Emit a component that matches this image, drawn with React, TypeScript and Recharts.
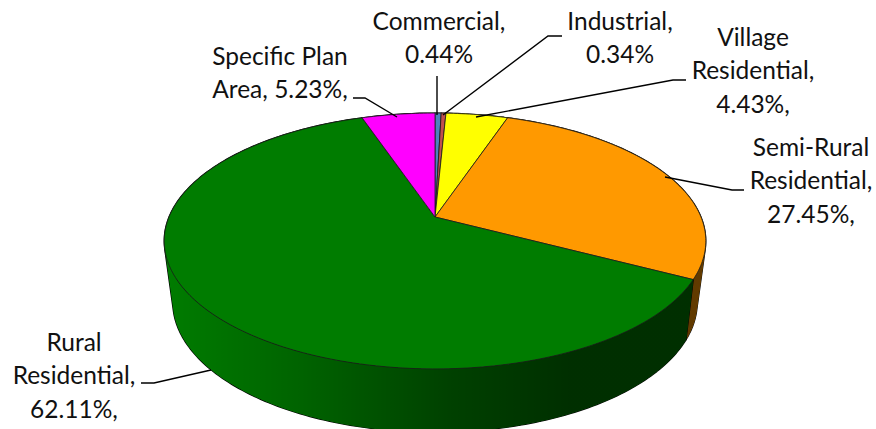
import React from "react"
import { Pie, PieChart } from "recharts"

// land use share, clockwise from 12 o'clock
const categories = ["Commercial", "Industrial", "Village Residential", "Semi-Rural Residential", "Rural Residential", "Specific Plan Area"]
const shares = [0.44, 0.34, 4.43, 27.45, 62.11, 5.23]
const colors = ["#4F81BD", "#C0504D", "#FFFF00", "#FF9900", "#007C00", "#FF00FF"]

const data = categories.map((name, i) => ({ name, value: shares[i], fill: colors[i] }))

const labelLines = [
  ["Commercial,", "0.44%"],
  ["Industrial,", "0.34%"],
  ["Village", "Residential,", "4.43%,"],
  ["Semi-Rural", "Residential,", "27.45%,"],
  ["Rural", "Residential,", "62.11%,"],
  ["Specific Plan", "Area, 5.23%,"],
]

// where each label sits and how its leader runs
const labelLayout = [
  { x: 439, y: 30, leader: "437,76 437,115" },
  { x: 620, y: 30, leader: "562,36 548,36 443,115" },
  { x: 753, y: 46, leader: "686,80 673,80 476,117" },
  { x: 811, y: 156, leader: "744,190 732,190 665,177" },
  { x: 74, y: 351, leader: "141,383 154,383 211,370" },
  { x: 280, y: 65, leader: "353,98 365,98 397,117" },
]

const LINE_HEIGHT = 33.3

// perspective of the tilted disc
const topRing = { dy: 0, scaleR: 1, scaleS: 0.464, a: 0.1875 }
const bottomRing = { dy: 59, scaleR: 0.966, scaleS: 0.47, a: 0.2 }

function ringCoords(p: any, ring: typeof topRing) {
  const pts: number[][] = []
  const from = 90 - p.startAngle
  const to = 90 - p.endAngle
  const steps = Math.max(2, Math.ceil(Math.abs(to - from)))
  for (let i = 0; i <= steps; i++) {
    const t = ((from + ((to - from) * i) / steps) * Math.PI) / 180
    const u = Math.sin(t)
    const v = Math.cos(t)
    const d = 1 + ring.a * v
    pts.push([p.cx + (p.outerRadius * ring.scaleR * u) / d, p.cy + ring.dy - (p.outerRadius * ring.scaleS * v) / d])
  }
  return pts
}

const toPath = (pts: number[][]) => "M" + pts.map((q) => `${q[0].toFixed(2)} ${q[1].toFixed(2)}`).join("L") + "Z"

function signedArea(pts: number[][]) {
  let s = 0
  pts.forEach((q, i) => {
    const n = pts[(i + 1) % pts.length]
    s += q[0] * n[1] - n[0] * q[1]
  })
  return s
}

function SideShape(p: any) {
  const upper = ringCoords(p, topRing)
  const lower = ringCoords(p, bottomRing)
  // one quad per step, so the strip also fills out to the silhouette at the far left and right.
  // all wound the same way or the overlaps cancel under nonzero
  let d = ""
  for (let i = 0; i < upper.length - 1; i++) {
    const quad = [upper[i], upper[i + 1], lower[i + 1], lower[i]]
    d += toPath(signedArea(quad) < 0 ? quad.reverse() : quad)
  }
  return (
    <g>
      <path d={d} fill="none" stroke="#000" strokeWidth={1.3} strokeLinejoin="round" />
      <path d={d} fill={p.fill} />
      <path d={d} fill="url(#sideShade)" />
    </g>
  )
}

function TopShape(p: any) {
  const d = toPath([[p.cx, p.cy], ...ringCoords(p, topRing)])
  return <path d={d} fill={p.fill} stroke="#1a1a1a" strokeWidth={0.8} strokeLinejoin="round" />
}

function SliceLabel(p: any) {
  const layout = labelLayout[p.index]
  return (
    <g>
      <polyline points={layout.leader} fill="none" stroke="#000" strokeWidth={1.4} />
      <text x={layout.x} y={layout.y} textAnchor="middle" fontFamily="Lato" fontSize={24.5} fill="#111">
        {labelLines[p.index].map((line, i) => (
          <tspan key={line} x={layout.x} dy={i === 0 ? 0 : LINE_HEIGHT}>
            {line}
          </tspan>
        ))}
      </text>
    </g>
  )
}

export default function App() {
  return (
    <div style={{ position: "absolute", left: 0, top: 0, width: 876, height: 429, overflow: "hidden", background: "#fff" }}>
      <PieChart width={876} height={429} margin={{ top: 0, right: 0, bottom: 0, left: 0 }}>
        <defs>
          <linearGradient id="sideShade" gradientUnits="userSpaceOnUse" x1={164} y1={0} x2={706} y2={0}>
            <stop offset="0" stopColor="#000" stopOpacity={0} />
            <stop offset="0.25" stopColor="#000" stopOpacity={0.2} />
            <stop offset="0.53" stopColor="#000" stopOpacity={0.48} />
            <stop offset="0.75" stopColor="#000" stopOpacity={0.62} />
            <stop offset="1" stopColor="#000" stopOpacity={0.62} />
          </linearGradient>
        </defs>
        <Pie
          data={data}
          dataKey="value"
          cx={435}
          cy={217}
          outerRadius={266}
          startAngle={90}
          endAngle={-270}
          stroke="none"
          shape={SideShape}
          isAnimationActive={false}
        />
        <Pie
          data={data}
          dataKey="value"
          cx={435}
          cy={217}
          outerRadius={266}
          startAngle={90}
          endAngle={-270}
          stroke="none"
          shape={TopShape}
          label={SliceLabel}
          labelLine={false}
          isAnimationActive={false}
        />
      </PieChart>
    </div>
  )
}
